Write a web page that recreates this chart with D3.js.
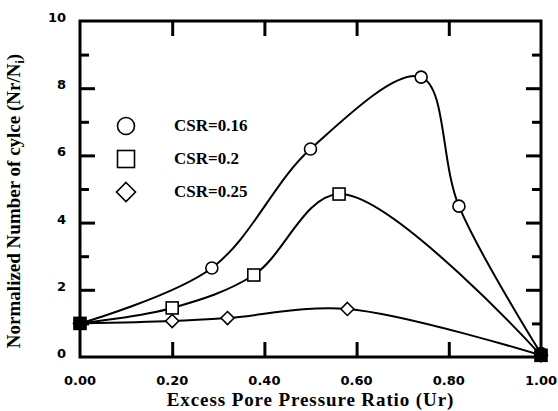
<!DOCTYPE html>
<html>
<head>
<meta charset="utf-8">
<script src="https://cdn.jsdelivr.net/npm/d3@7"></script>
<style>
  html, body { margin: 0; padding: 0; background: #fff; }
  svg { display: block; }
</style>
</head>
<body>
<svg id="chart" width="558" height="411"></svg>
<script>
// ---- data ----
const seriesNames = ["CSR=0.16", "CSR=0.2", "CSR=0.25"];
const markerTypes = ["circle", "square", "diamond"];
const ur016 = [0, 0.286, 0.50, 0.74, 0.822, 1.0];
const nr016 = [1, 2.65, 6.19, 8.33, 4.49, 0.1];
const ur020 = [0, 0.20, 0.377, 0.562, 1.0];
const nr020 = [1, 1.46, 2.44, 4.85, 0.05];
const ur025 = [0, 0.20, 0.32, 0.58, 1.0];
const nr025 = [1, 1.07, 1.16, 1.43, 0.05];
const xTickValues = [0, 0.2, 0.4, 0.6, 0.8, 1.0];
const xTickLabels = ["0.00", "0.20", "0.40", "0.60", "0.80", "1.00"];
const yTickValues = [0, 2, 4, 6, 8, 10];
const yMinorValues = [1, 3, 5, 7, 9];
const xTitle = "Excess Pore Pressure Ratio (Ur)";

const series = [
  {name: seriesNames[0], marker: markerTypes[0], pts: ur016.map((u, i) => [u, nr016[i]])},
  {name: seriesNames[1], marker: markerTypes[1], pts: ur020.map((u, i) => [u, nr020[i]])},
  {name: seriesNames[2], marker: markerTypes[2], pts: ur025.map((u, i) => [u, nr025[i]])}
];

// ---- layout ----
const svg = d3.select("#chart");
const L = 80, R = 541, T = 21, B = 357;
const x = d3.scaleLinear().domain([0, 1]).range([L, R]);
const y = d3.scaleLinear().domain([0, 10]).range([B, T]);
const serif = "'Liberation Serif','Times New Roman',serif";
const sans = "'DejaVu Sans',sans-serif";

// ---- axes (ticks inward) ----
const majorLen = 15, minorLen = 9;
const axisStyle = g => {
  g.select(".domain").remove();
  g.selectAll(".tick line").attr("stroke", "#000").attr("stroke-width", 3);
};
svg.append("g").attr("transform", `translate(0,${B})`)
  .call(d3.axisBottom(x).tickValues(xTickValues.slice(1, -1)).tickSize(-majorLen).tickFormat(""))
  .call(axisStyle);
svg.append("g").attr("transform", `translate(0,${T})`)
  .call(d3.axisTop(x).tickValues(xTickValues.slice(1, -1)).tickSize(-majorLen).tickFormat(""))
  .call(axisStyle);
svg.append("g").attr("transform", `translate(${L},0)`)
  .call(d3.axisLeft(y).tickValues(yTickValues.slice(1, -1)).tickSize(-majorLen).tickFormat(""))
  .call(axisStyle);
svg.append("g").attr("transform", `translate(${L},0)`)
  .call(d3.axisLeft(y).tickValues(yMinorValues).tickSize(-minorLen).tickFormat(""))
  .call(axisStyle);
svg.append("g").attr("transform", `translate(${R},0)`)
  .call(d3.axisRight(y).tickValues(yTickValues.slice(1, -1)).tickSize(-majorLen).tickFormat(""))
  .call(axisStyle);
svg.append("g").attr("transform", `translate(${R},0)`)
  .call(d3.axisRight(y).tickValues(yMinorValues).tickSize(-minorLen).tickFormat(""))
  .call(axisStyle);

// frame
svg.append("rect").attr("x", L).attr("y", T).attr("width", R - L).attr("height", B - T)
  .attr("fill", "none").attr("stroke", "#000").attr("stroke-width", 3);

// tick labels
svg.append("g").selectAll("text").data(xTickValues).join("text")
  .attr("x", d => x(d)).attr("y", 385)
  .attr("text-anchor", "middle")
  .attr("font-family", sans).attr("font-weight", "bold").attr("font-size", 13)
  .text((d, i) => xTickLabels[i]);
svg.append("g").selectAll("text").data(yTickValues).join("text")
  .attr("x", 66).attr("y", d => y(d) + 1)
  .attr("text-anchor", "end")
  .attr("font-family", sans).attr("font-weight", "bold").attr("font-size", 13)
  .text(d => d);

// axis titles
svg.append("text").attr("x", (L + R) / 2).attr("y", 406)
  .attr("text-anchor", "middle")
  .attr("font-family", serif).attr("font-weight", "bold").attr("font-size", 19)
  .attr("letter-spacing", 0.9)
  .text(xTitle);
const yt = svg.append("text")
  .attr("transform", `translate(20,201) rotate(-90)`)
  .attr("text-anchor", "middle")
  .attr("font-family", serif).attr("font-weight", "bold").attr("font-size", 19);
yt.append("tspan").text("Normalized Number of cylce (Nr/N");
yt.append("tspan").attr("font-size", 12).attr("dy", 4).text("i");
yt.append("tspan").attr("dy", -4).text(")");

// ---- curves ----
const line = d3.line().x(d => x(d[0])).y(d => y(d[1])).curve(d3.curveCatmullRom.alpha(0.5));
svg.append("g").selectAll("path").data(series).join("path")
  .attr("d", d => line(d.pts))
  .attr("fill", "none").attr("stroke", "#000").attr("stroke-width", 2);

// ---- markers ----
function drawMarker(g, type, size, fill) {
  const h = size / 2;
  if (type === "circle") g.append("circle").attr("r", h).attr("fill", fill).attr("stroke", "#000").attr("stroke-width", 1.6);
  else if (type === "square") g.append("rect").attr("x", -h).attr("y", -h).attr("width", size).attr("height", size)
    .attr("fill", fill).attr("stroke", "#000").attr("stroke-width", 1.6);
  else g.append("path").attr("d", `M0,${-h}L${h},0L0,${h}L${-h},0Z`)
    .attr("fill", fill).attr("stroke", "#000").attr("stroke-width", 1.6);
}
series.forEach(s => {
  s.pts.forEach(p => {
    const g = svg.append("g").attr("transform", `translate(${x(p[0])},${y(p[1])})`);
    const shared = p[0] === 0 || p[0] === 1;
    drawMarker(g, s.marker, s.marker === "diamond" ? 13 : 12, shared ? "#000" : "#fff");
  });
});

// ---- legend ----
const legendY = [126, 159, 192];
series.forEach((s, i) => {
  const g = svg.append("g").attr("transform", `translate(126,${legendY[i]})`);
  drawMarker(g, s.marker, s.marker === "diamond" ? 19 : 17, "#fff");
  svg.append("text").attr("x", 174).attr("y", legendY[i] + 5)
    .attr("font-family", serif).attr("font-weight", "bold").attr("font-size", 17)
    .text(s.name);
});
</script>
</body>
</html>
